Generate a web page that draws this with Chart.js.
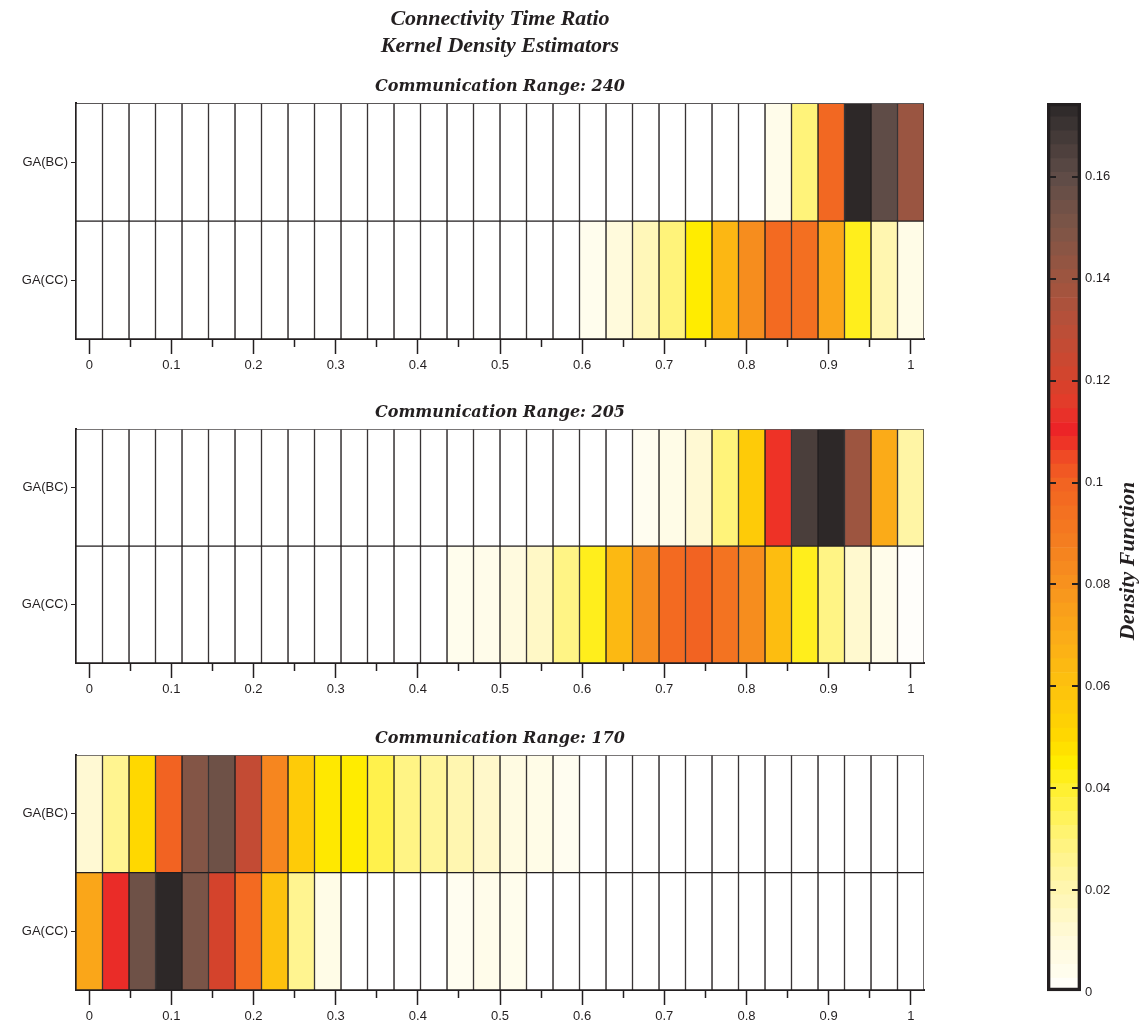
<!DOCTYPE html>
<html>
<head>
<meta charset="utf-8">
<script src="https://cdn.jsdelivr.net/npm/chart.js@4.4.0/dist/chart.umd.min.js"></script>
<style>
  body { margin: 0; background: #fff; width: 1142px; height: 1030px; position: relative; overflow: hidden; }
  canvas { position: absolute; }
  #p240 { left: 0px; top: 0px; }
  #p205 { left: 0px; top: 403px; }
  #p170 { left: 0px; top: 729px; }
  #cbar { left: 1030px; top: 90px; }
</style>
</head>
<body>
<canvas id="p240" width="930" height="379"></canvas>
<canvas id="p205" width="930" height="300"></canvas>
<canvas id="p170" width="930" height="301"></canvas>
<canvas id="cbar" width="112" height="930"></canvas>
<script>
// rows of each panel
const rows = ['GA(BC)', 'GA(CC)'];

// density per bin (32 bins on the connectivity time ratio, 0..1)
const range240BC = [0, 0, 0, 0, 0, 0, 0, 0, 0, 0, 0, 0, 0, 0, 0, 0, 0, 0, 0, 0, 0, 0, 0, 0, 0, 0, 0.005, 0.03, 0.098, 0.174, 0.16, 0.141];
const range240CC = [0, 0, 0, 0, 0, 0, 0, 0, 0, 0, 0, 0, 0, 0, 0, 0, 0, 0, 0, 0.004, 0.01, 0.018, 0.03, 0.045, 0.065, 0.082, 0.097, 0.095, 0.072, 0.042, 0.02, 0.006];
const range205BC = [0, 0, 0, 0, 0, 0, 0, 0, 0, 0, 0, 0, 0, 0, 0, 0, 0, 0, 0, 0, 0, 0.003, 0.006, 0.012, 0.03, 0.056, 0.108, 0.166, 0.174, 0.14, 0.07, 0.022];
const range205CC = [0, 0, 0, 0, 0, 0, 0, 0, 0, 0, 0, 0, 0, 0, 0.004, 0.005, 0.009, 0.015, 0.028, 0.042, 0.064, 0.082, 0.097, 0.1, 0.093, 0.082, 0.062, 0.042, 0.028, 0.013, 0.005, 0.001];
const range170BC = [0.012, 0.026, 0.05, 0.1, 0.148, 0.155, 0.127, 0.085, 0.056, 0.046, 0.045, 0.036, 0.028, 0.024, 0.02, 0.014, 0.008, 0.006, 0.003, 0, 0, 0, 0, 0, 0, 0, 0, 0, 0, 0, 0, 0];
const range170CC = [0.072, 0.112, 0.155, 0.174, 0.151, 0.12, 0.097, 0.06, 0.026, 0.006, 0, 0, 0, 0, 0.003, 0.005, 0.004, 0, 0, 0, 0, 0, 0, 0, 0, 0, 0, 0, 0, 0, 0, 0];

// x axis ticks
const xTickValues = [0, 0.05, 0.1, 0.15, 0.2, 0.25, 0.3, 0.35, 0.4, 0.45, 0.5, 0.55, 0.6, 0.65, 0.7, 0.75, 0.8, 0.85, 0.9, 0.95, 1];
const xTickLabels = ['0', '', '0.1', '', '0.2', '', '0.3', '', '0.4', '', '0.5', '', '0.6', '', '0.7', '', '0.8', '', '0.9', '', '1'];

// colour bar
const cbMax = 0.1745;
const cbTickValues = [0, 0.02, 0.04, 0.06, 0.08, 0.1, 0.12, 0.14, 0.16];
const cbTickLabels = ['0', '0.02', '0.04', '0.06', '0.08', '0.1', '0.12', '0.14', '0.16'];
const cmapValues = [0, 0.003, 0.01, 0.02, 0.03, 0.04, 0.045, 0.05, 0.06, 0.07, 0.08, 0.09, 0.1, 0.105, 0.11, 0.115, 0.12, 0.13, 0.14, 0.15, 0.16, 0.17, 0.1745];
const cmapColors = ['#ffffff', '#fffdf0', '#fffadc', '#fff6b0', '#fff37a', '#fff02e', '#ffec00', '#ffd800', '#fdc20e', '#fbab18', '#f7921e', '#f47a20', '#f26322', '#ef4a25', '#ed2227', '#e53a2a', '#d4432c', '#bb4f38', '#9d5540', '#7d5547', '#5f4c47', '#3c3433', '#2b2727'];

const ink = '#231f20';
Chart.defaults.font.family = '"Liberation Sans", Arial, sans-serif';
Chart.defaults.font.size = 13;
Chart.defaults.color = ink;

function hex(c) {
  return [1, 3, 5].map(i => parseInt(c.slice(i, i + 2), 16));
}
function cmap(v) {
  if (v <= cmapValues[0]) return cmapColors[0];
  for (let i = 1; i < cmapValues.length; i++) {
    if (v <= cmapValues[i]) {
      const t = (v - cmapValues[i - 1]) / (cmapValues[i] - cmapValues[i - 1]);
      const a = hex(cmapColors[i - 1]), b = hex(cmapColors[i]);
      const m = a.map((x, k) => Math.round(x + (b[k] - x) * t));
      return 'rgb(' + m.join(',') + ')';
    }
  }
  return cmapColors[cmapColors.length - 1];
}

const nBins = range240BC.length;
const binW = 1 / (nBins - 1);
const edge = i => (i - 0.5) * binW;

const titleFont = { family: '"Liberation Serif", "Times New Roman", serif', size: 22, style: 'italic', weight: 'bold', lineHeight: 1.23 };
const subFont = { family: '"DejaVu Serif", serif', size: 16, style: 'italic', weight: 'bold', lineHeight: 1.2 };

function heatmap(id, subtitle, bc, cc, mainTitle) {
  const datasets = bc.map((v, i) => ({
    data: [[edge(i), edge(i + 1)], [edge(i), edge(i + 1)]],
    backgroundColor: [cmap(bc[i]), cmap(cc[i])],
    borderColor: ink,
    borderWidth: 1,
    borderSkipped: false,
    grouped: false,
    categoryPercentage: 1,
    barPercentage: 1
  }));
  new Chart(document.getElementById(id), {
    type: 'bar',
    data: { labels: rows, datasets },
    options: {
      indexAxis: 'y',
      responsive: false,
      animation: false,
      layout: { padding: { top: mainTitle ? 6 : 0, left: 0, right: 6, bottom: 0 } },
      plugins: {
        legend: { display: false },
        tooltip: { enabled: false },
        title: {
          display: !!mainTitle, text: mainTitle, fullSize: false,
          font: titleFont, color: ink, padding: { top: 0, bottom: 17 }
        },
        subtitle: {
          display: true, text: subtitle, fullSize: false,
          font: subFont, color: ink, padding: { top: 0, bottom: 7 }
        }
      },
      scales: {
        x: {
          type: 'linear',
          min: edge(0),
          max: edge(nBins),
          afterBuildTicks: axis => { axis.ticks = xTickValues.map(v => ({ value: v })); },
          afterFit: axis => { axis.height = 40; },
          ticks: {
            autoSkip: false, maxRotation: 0, padding: 4,
            callback: (v, i) => xTickLabels[i]
          },
          grid: {
            drawOnChartArea: false,
            tickLength: 15,
            tickWidth: 1.5,
            tickColor: ink,
            tickBorderDash: ctx => (xTickLabels[ctx.index] ? [] : [7, 40])
          },
          border: { color: ink, width: 2 }
        },
        y: {
          type: 'category',
          afterFit: axis => { axis.width = 76; },
          ticks: { padding: 3 },
          grid: { offset: false, drawOnChartArea: false, tickLength: 5, tickColor: ink, tickWidth: 1 },
          border: { color: ink, width: 2 }
        }
      }
    }
  });
}

heatmap('p240', 'Communication Range: 240', range240BC, range240CC, ['Connectivity Time Ratio', 'Kernel Density Estimators']);
heatmap('p205', 'Communication Range: 205', range205BC, range205CC);
heatmap('p170', 'Communication Range: 170', range170BC, range170CC);

// colour bar: stepped bands plus a frame
const nBands = 64;
const bandSets = [];
for (let k = 0; k < nBands; k++) {
  const lo = k * cbMax / nBands, hi = (k + 1) * cbMax / nBands;
  bandSets.push({
    data: [[lo, hi]], backgroundColor: cmap((lo + hi) / 2), borderWidth: 0,
    grouped: false, categoryPercentage: 1, barPercentage: 1, order: 1
  });
}
bandSets.push({
  data: [[0, cbMax]], backgroundColor: 'rgba(0,0,0,0)', borderColor: ink, borderWidth: 3,
  borderSkipped: false, grouped: false, categoryPercentage: 1, barPercentage: 1, order: 0
});

const sideLabel = {
  id: 'sideLabel',
  afterDraw(chart) {
    const ctx = chart.ctx;
    ctx.save();
    ctx.translate(98, 471);
    ctx.rotate(-Math.PI / 2);
    ctx.font = 'italic bold 22px "Liberation Serif", serif';
    ctx.fillStyle = ink;
    ctx.textAlign = 'center';
    ctx.textBaseline = 'middle';
    ctx.fillText('Density Function', 0, 0);
    ctx.restore();
  }
};

new Chart(document.getElementById('cbar'), {
  type: 'bar',
  data: { labels: [''], datasets: bandSets },
  options: {
    responsive: false,
    animation: false,
    layout: { padding: { top: 13, left: 17, right: 0, bottom: 28 } },
    plugins: { legend: { display: false }, tooltip: { enabled: false } },
    scales: {
      x: { display: false },
      y: {
        position: 'right',
        min: 0,
        max: cbMax,
        afterBuildTicks: axis => { axis.ticks = cbTickValues.map(v => ({ value: v })); },
        afterFit: axis => { axis.width = 61; },
        ticks: { padding: 4, callback: (v, i) => cbTickLabels[i] },
        grid: {
          z: 1,
          drawTicks: false,
          lineWidth: 2,
          color: ctx => (ctx.index === 0 ? 'rgba(0,0,0,0)' : ink)
        },
        border: { display: false, dash: [9, 16] }
      }
    }
  },
  plugins: [sideLabel]
});
</script>
</body>
</html>
